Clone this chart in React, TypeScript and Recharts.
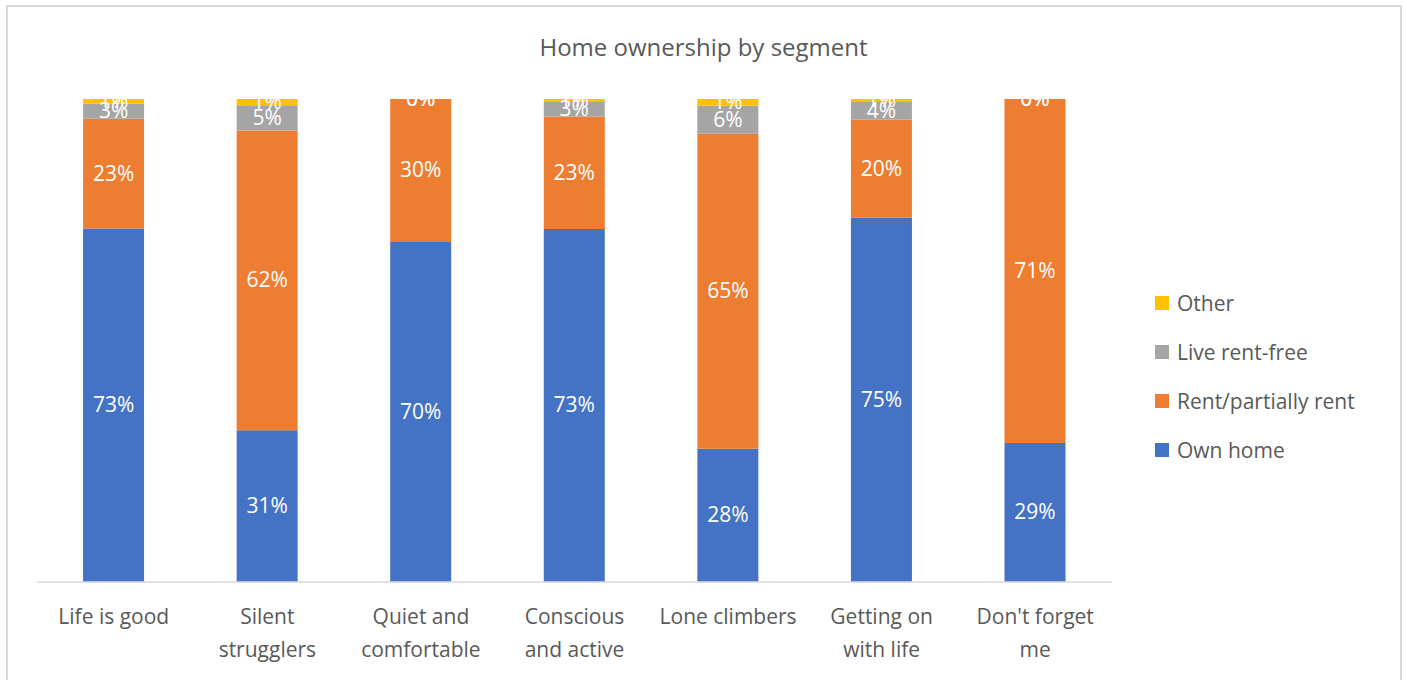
import { BarChart, Bar, XAxis, YAxis, LabelList } from 'recharts';

const segments = [
  'Life is good',
  'Silent\nstrugglers',
  'Quiet and\ncomfortable',
  'Conscious\nand active',
  'Lone climbers',
  'Getting on\nwith life',
  "Don't forget\nme",
];

const ownHome = [73.2, 31.4, 70.4, 73.1, 27.6, 75.4, 28.8];
const rentPartially = [22.7, 62.1, 29.6, 23.3, 65.2, 20.3, 71.2];
const liveRentFree = [3.1, 5.2, 0, 3.0, 5.8, 3.7, 0];
const other = [1.0, 1.3, 0, 0.6, 1.4, 0.6, 0];

const seriesList = [
  { key: 'own', name: 'Own home', color: '#4472c4', values: ownHome },
  { key: 'rent', name: 'Rent/partially rent', color: '#ed7d31', values: rentPartially },
  { key: 'free', name: 'Live rent-free', color: '#a5a5a5', values: liveRentFree },
  { key: 'other', name: 'Other', color: '#ffc000', values: other },
];

const data = segments.map((segment, i) => {
  const row: Record<string, string | number> = { segment };
  seriesList.forEach((s) => {
    row[s.key] = s.values[i];
  });
  return row;
});

const FONT = '"Open Sans", "Noto Sans", sans-serif';

function CategoryTick({ x, y, payload }: any) {
  const lines = String(payload.value).split('\n');
  return (
    <text x={x} y={y} textAnchor="middle" fill="#595959" fontSize={21} fontFamily={FONT}>
      {lines.map((line, i) => (
        <tspan key={i} x={x} dy={i === 0 ? 42 : 33}>
          {line}
        </tspan>
      ))}
    </text>
  );
}

// draw the value even when the segment is 0 tall (Excel shows "0%")
function ValueLabel({ x, y, width, height, value }: any) {
  const cx = Number(x) + Number(width) / 2;
  const cy = Number(y) + Number(height) / 2;
  return (
    <text x={cx} y={cy} dy={7} textAnchor="middle" fill="#ffffff" fontSize={21} fontFamily={FONT}>
      {`${Math.round(Number(value))}%`}
    </text>
  );
}

export default function App() {
  const legendItems = [...seriesList].reverse();
  return (
    <div style={{ position: 'absolute', left: 0, top: 0, width: 1407, height: 680, background: '#fff', overflow: 'hidden' }}>
      <div
        style={{
          position: 'absolute',
          left: 6,
          top: 5,
          width: 1392,
          height: 690,
          border: '2px solid #d9d9d9',
        }}
      />
      <div
        style={{
          position: 'absolute',
          left: 0,
          top: 30,
          width: 1407,
          textAlign: 'center',
          fontFamily: FONT,
          fontSize: 24,
          color: '#595959',
        }}
      >
        Home ownership by segment
      </div>
      <div style={{ position: 'absolute', left: 0, top: 0 }}>
        <BarChart
          width={1407}
          height={680}
          data={data}
          margin={{ top: 99, right: 295, left: 37, bottom: 8 }}
          barCategoryGap="30%"
        >
          <XAxis
            dataKey="segment"
            height={90}
            interval={0}
            tickLine={false}
            tickSize={0}
            tickMargin={0}
            axisLine={{ stroke: '#d9d9d9', strokeWidth: 1.5 }}
            tick={<CategoryTick />}
          />
          <YAxis hide domain={[0, 100]} />
          {seriesList.map((s) => (
            <Bar
              key={s.key}
              dataKey={s.key}
              name={s.name}
              stackId="a"
              fill={s.color}
              minPointSize={0.01}
              isAnimationActive={false}
            >
              <LabelList dataKey={s.key} content={<ValueLabel />} />
            </Bar>
          ))}
        </BarChart>
      </div>
      <div style={{ position: 'absolute', left: 1155, top: 278, fontFamily: FONT }}>
        {legendItems.map((s) => (
          <div key={s.key} style={{ display: 'flex', alignItems: 'center', height: 49 }}>
            <span style={{ width: 14, height: 14, background: s.color, marginRight: 8 }} />
            <span style={{ fontSize: 21, color: '#595959' }}>{s.name}</span>
          </div>
        ))}
      </div>
    </div>
  );
}
